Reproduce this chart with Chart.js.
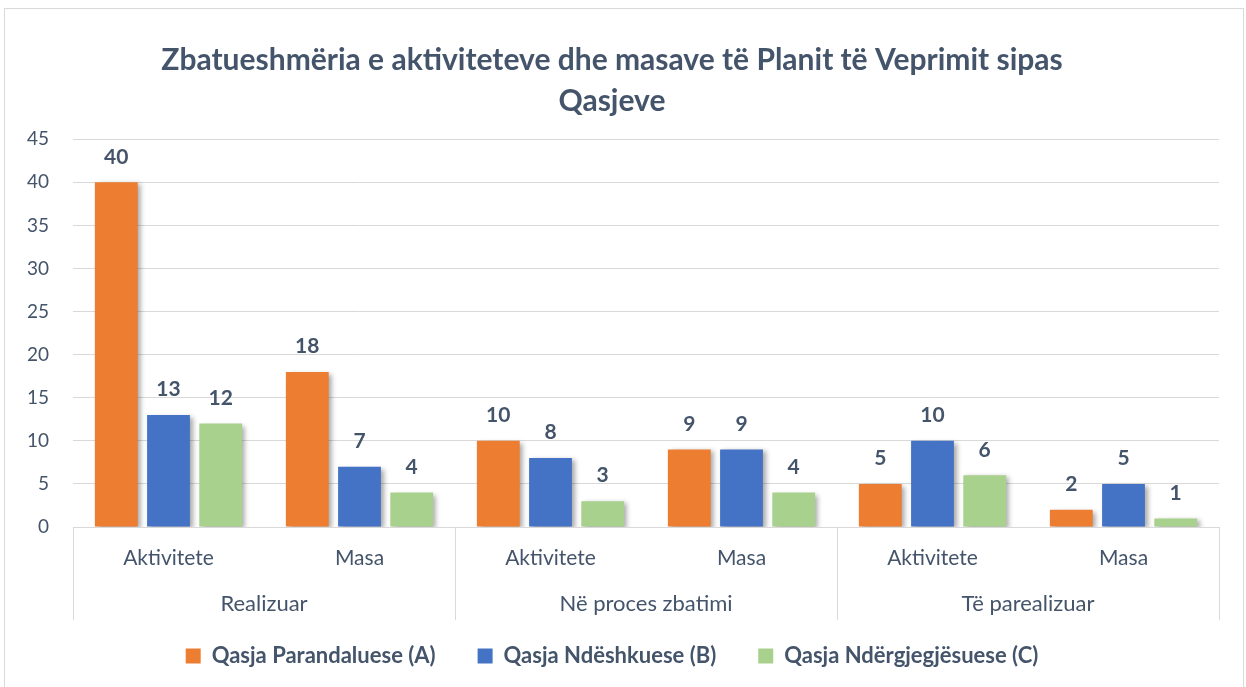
<!DOCTYPE html>
<html>
<head>
<meta charset="utf-8">
<script src="https://cdn.jsdelivr.net/npm/chart.js@4.4.1/dist/chart.umd.min.js"></script>
<style>
  html, body { margin: 0; padding: 0; background: #fff; }
  #wrap {
    position: absolute; left: 4px; top: 8px;
    width: 1240px; height: 690px;
    border: 1px solid #D9D9D9; box-sizing: border-box;
  }
  canvas { display: block; }
</style>
</head>
<body>
<div id="wrap"><canvas id="chart" width="1238" height="688"></canvas></div>
<script>
const subLabels = ["Aktivitete", "Masa", "Aktivitete", "Masa", "Aktivitete", "Masa"];
const groupLabels = ["Realizuar", "Në proces zbatimi", "Të parealizuar"];
const seriesNames = ["Qasja Parandaluese (A)", "Qasja Ndëshkuese (B)", "Qasja Ndërgjegjësuese (C)"];
const seriesA = [40, 18, 10, 9, 5, 2];
const seriesB = [13, 7, 8, 9, 10, 5];
const seriesC = [12, 4, 3, 4, 6, 1];
const yTicks = [0, 5, 10, 15, 20, 25, 30, 35, 40, 45];

const textColor = "#44546A";
const lineColor = "#D9D9D9";
const fontFam = "Lato, 'Open Sans', sans-serif";

// bar shadows, value labels and the two-level category axis
const extras = {
  id: "extras",
  beforeDatasetsDraw(chart) {
    const ctx = chart.ctx;
    ctx.save();
    ctx.shadowColor = "rgba(0,0,0,0.35)";
    ctx.shadowBlur = 5;
    ctx.shadowOffsetX = 3;
    ctx.shadowOffsetY = 2;
  },
  afterDatasetsDraw(chart) {
    const ctx = chart.ctx;
    ctx.restore();
    ctx.save();
    ctx.fillStyle = textColor;
    ctx.font = "bold 21px " + fontFam;
    ctx.textAlign = "center";
    ctx.textBaseline = "bottom";
    chart.data.datasets.forEach((ds, i) => {
      chart.getDatasetMeta(i).data.forEach((bar, j) => {
        ctx.fillText(String(ds.data[j]), bar.x, bar.y - 15);
      });
    });
    ctx.restore();
  },
  afterDraw(chart) {
    const ctx = chart.ctx;
    const x = chart.scales.x;
    const half = (x.getPixelForValue(1) - x.getPixelForValue(0)) / 2;
    const top = chart.chartArea.bottom;
    const bottom = top + 93;
    ctx.save();
    ctx.strokeStyle = lineColor;
    ctx.lineWidth = 1;
    for (let i = 0; i <= subLabels.length; i += 2) {
      const px = Math.round(x.getPixelForValue(i) - half) + 0.5;
      ctx.beginPath();
      ctx.moveTo(px, top);
      ctx.lineTo(px, bottom);
      ctx.stroke();
    }
    ctx.fillStyle = textColor;
    ctx.font = "22px " + fontFam;
    ctx.textAlign = "center";
    ctx.textBaseline = "middle";
    groupLabels.forEach((g, k) => {
      const cx = (x.getPixelForValue(2 * k) + x.getPixelForValue(2 * k + 1)) / 2;
      ctx.fillText(g, cx, top + 77);
    });
    ctx.restore();
  }
};

new Chart(document.getElementById("chart"), {
  type: "bar",
  data: {
    labels: subLabels,
    datasets: [
      { label: seriesNames[0], data: seriesA, backgroundColor: "#ED7D31" },
      { label: seriesNames[1], data: seriesB, backgroundColor: "#4472C4" },
      { label: seriesNames[2], data: seriesC, backgroundColor: "#A9D18E" }
    ]
  },
  options: {
    responsive: false,
    animation: false,
    layout: { padding: { top: 18, right: 24, left: 0, bottom: 20 } },
    datasets: { bar: { categoryPercentage: 0.82, barPercentage: 0.82 } },
    scales: {
      x: {
        grid: { display: false },
        border: { color: lineColor },
        ticks: { color: textColor, font: { family: fontFam, size: 21 }, padding: 11, maxRotation: 0 },
        afterFit(scale) { scale.height = 76; }
      },
      y: {
        min: 0,
        max: 45,
        afterBuildTicks(scale) { scale.ticks = yTicks.map(v => ({ value: v })); },
        grid: { color: lineColor, drawTicks: false },
        border: { display: false },
        ticks: { color: textColor, font: { family: fontFam, size: 19 }, padding: 24 },
        afterFit(scale) { scale.width = 68; }
      }
    },
    plugins: {
      title: {
        display: true,
        text: ["Zbatueshmëria e aktiviteteve dhe masave të Planit të Veprimit sipas", "Qasjeve"],
        color: textColor,
        font: { family: fontFam, size: 30, weight: "bold", lineHeight: 1.37 },
        padding: { top: 13, bottom: 17 }
      },
      legend: {
        position: "bottom",
        labels: {
          color: textColor,
          font: { family: fontFam, size: 22, weight: "bold" },
          boxWidth: 15,
          boxHeight: 15,
          padding: 42
        }
      },
      tooltip: { enabled: false }
    }
  },
  plugins: [extras]
});
</script>
</body>
</html>
